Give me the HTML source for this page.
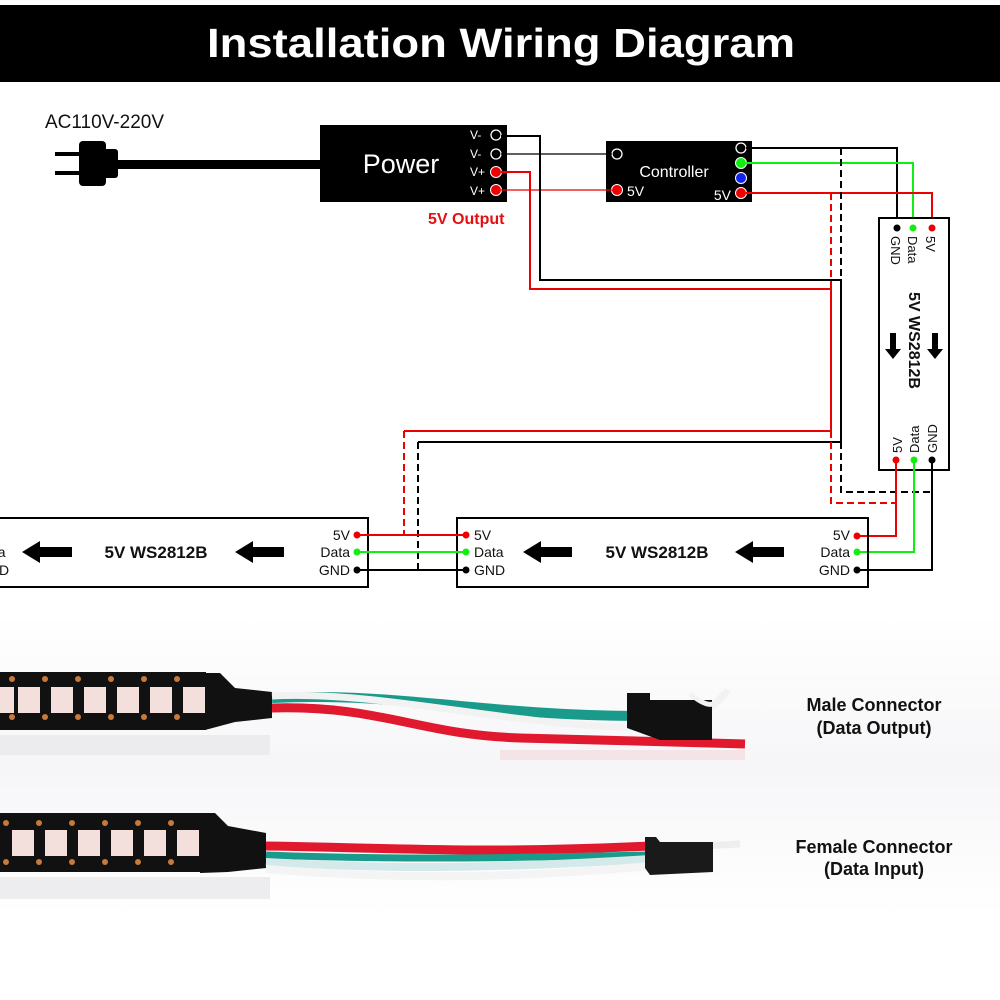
<!DOCTYPE html>
<html><head><meta charset="utf-8"><style>
html,body{margin:0;padding:0;background:#fff;}
svg{display:block;}
text{font-family:"Liberation Sans",sans-serif;}
</style></head><body>
<svg width="1000" height="1000" viewBox="0 0 1000 1000" xmlns="http://www.w3.org/2000/svg">
<defs>
<linearGradient id="bg" x1="0" y1="0" x2="0" y2="1">
<stop offset="0" stop-color="#ffffff"/><stop offset="0.5" stop-color="#f6f6f8"/><stop offset="1" stop-color="#ffffff"/>
</linearGradient>
</defs>
<rect width="1000" height="1000" fill="#fff"/>
<!-- header -->
<rect x="0" y="5" width="1000" height="77" fill="#000"/>
<text x="501" y="57" fill="#fff" font-size="41" font-weight="bold" text-anchor="middle" textLength="588" lengthAdjust="spacingAndGlyphs">Installation Wiring Diagram</text>

<!-- AC plug -->
<text x="45" y="128" font-size="19" fill="#111">AC110V-220V</text>
<rect x="55" y="152" width="28" height="4" fill="#000"/>
<rect x="55" y="171" width="28" height="4" fill="#000"/>
<rect x="79" y="141" width="27" height="45" rx="4" fill="#000"/>
<rect x="102" y="149" width="16" height="29" rx="3" fill="#000"/>
<rect x="115" y="160" width="206" height="9" fill="#000"/>

<!-- Power box -->
<rect x="320" y="125" width="187" height="77" fill="#000"/>
<text x="401" y="173" font-size="27" fill="#fff" text-anchor="middle">Power</text>
<g font-size="12" fill="#fff">
<text x="470" y="139">V-</text><text x="470" y="158">V-</text>
<text x="470" y="176">V+</text><text x="470" y="195">V+</text>
</g>
<circle cx="496" cy="135" r="5" fill="none" stroke="#fff" stroke-width="1.3"/>
<circle cx="496" cy="154" r="5" fill="none" stroke="#fff" stroke-width="1.3"/>
<circle cx="496" cy="172" r="5.5" fill="#e00" stroke="#fff" stroke-width="1"/>
<circle cx="496" cy="190" r="5.5" fill="#e00" stroke="#fff" stroke-width="1"/>
<text x="428" y="224" font-size="16" font-weight="bold" fill="#e31010">5V Output</text>

<!-- Controller -->
<rect x="606" y="141" width="146" height="61" fill="#000"/>
<text x="674" y="177" font-size="16" fill="#fff" text-anchor="middle">Controller</text>
<circle cx="617" cy="154" r="5" fill="none" stroke="#fff" stroke-width="1.3"/>
<circle cx="617" cy="190" r="5.5" fill="#e00" stroke="#fff" stroke-width="1"/>
<text x="627" y="196" font-size="14" fill="#fff">5V</text>
<text x="731" y="200" font-size="14" fill="#fff" text-anchor="end">5V</text>
<circle cx="741" cy="148" r="5" fill="none" stroke="#fff" stroke-width="1.3"/>
<circle cx="741" cy="163" r="5.5" fill="#1e1" stroke="#fff" stroke-width="1"/>
<circle cx="741" cy="178" r="5.5" fill="#12e" stroke="#fff" stroke-width="1"/>
<circle cx="741" cy="193" r="5.5" fill="#e00" stroke="#fff" stroke-width="1"/>

<g fill="none" stroke-width="1.3">
<polyline points="501,154 612,154" stroke="#000"/>
<polyline points="501,190 612,190" stroke="#e00"/>
</g>
<g fill="none" stroke-width="2">
<polyline points="501,136 540,136 540,280 841,280 841,442 418,442" stroke="#000"/>
<polyline points="501,172 530,172 530,289 831,289 831,431 404,431" stroke="#e00"/>
<polyline points="746,148 897,148 897,228" stroke="#000"/>
<polyline points="746,163 913,163 913,228" stroke="#1e1"/>
<polyline points="746,193 932,193 932,228" stroke="#e00"/>
</g>
<g fill="none" stroke-width="2" stroke-dasharray="7,4">
<polyline points="841,148 841,280" stroke="#000"/>
<polyline points="831,193 831,289" stroke="#e00"/>
<polyline points="841,442 841,492 932,492" stroke="#000"/>
<polyline points="831,431 831,503 896,503" stroke="#e00"/>
<polyline points="404,431 404,535" stroke="#e00"/>
<polyline points="418,442 418,570" stroke="#000"/>
</g>

<!-- vertical strip -->
<rect x="879" y="218" width="70" height="252" fill="#fff" stroke="#000" stroke-width="2"/>
<circle cx="897" cy="228" r="3.5" fill="#000"/>
<circle cx="913" cy="228" r="3.5" fill="#1e1"/>
<circle cx="932" cy="228" r="3.5" fill="#e00"/>
<g font-size="13" fill="#111">
<text transform="translate(891,236) rotate(90)">GND</text>
<text transform="translate(908,236) rotate(90)">Data</text>
<text transform="translate(926,236) rotate(90)">5V</text>
<text transform="translate(937,453) rotate(-90)">GND</text>
<text transform="translate(919,453) rotate(-90)">Data</text>
<text transform="translate(902,453) rotate(-90)">5V</text>
</g>
<text transform="translate(909,292) rotate(90)" font-size="16" font-weight="bold" fill="#111">5V WS2812B</text>
<path d="M890 333 h6 v16 h5 l-8 10 l-8 -10 h5 z" fill="#000"/>
<path d="M932 333 h6 v16 h5 l-8 10 l-8 -10 h5 z" fill="#000"/>
<circle cx="896" cy="460" r="3.5" fill="#e00"/>
<circle cx="914" cy="460" r="3.5" fill="#1e1"/>
<circle cx="932" cy="460" r="3.5" fill="#000"/>
<g fill="none" stroke-width="2">
<polyline points="896,460 896,536 857,536" stroke="#e00"/>
<polyline points="914,460 914,552 857,552" stroke="#1e1"/>
<polyline points="932,460 932,570 857,570" stroke="#000"/>
</g>

<!-- right horizontal strip -->
<rect x="457" y="518" width="411" height="69" fill="none" stroke="#000" stroke-width="2"/>
<g font-size="14" fill="#111">
<text x="850" y="540" text-anchor="end">5V</text>
<text x="850" y="557" text-anchor="end">Data</text>
<text x="850" y="575" text-anchor="end">GND</text>
<text x="474" y="540">5V</text>
<text x="474" y="557">Data</text>
<text x="474" y="575">GND</text>
</g>
<circle cx="857" cy="536" r="3.5" fill="#e00"/>
<circle cx="857" cy="552" r="3.5" fill="#1e1"/>
<circle cx="857" cy="570" r="3.5" fill="#000"/>
<circle cx="466" cy="535" r="3.5" fill="#e00"/>
<circle cx="466" cy="552" r="3.5" fill="#1e1"/>
<circle cx="466" cy="570" r="3.5" fill="#000"/>
<text x="657" y="558" font-size="17" font-weight="bold" fill="#111" text-anchor="middle">5V WS2812B</text>
<path d="M523 552 l18 -11 v6 h31 v10 h-31 v6 z" fill="#000"/>
<path d="M735 552 l18 -11 v6 h31 v10 h-31 v6 z" fill="#000"/>

<!-- left horizontal strip -->
<rect x="-5" y="518" width="373" height="69" fill="none" stroke="#000" stroke-width="2"/>
<g font-size="14" fill="#111">
<text x="350" y="540" text-anchor="end">5V</text>
<text x="350" y="557" text-anchor="end">Data</text>
<text x="350" y="575" text-anchor="end">GND</text>
<text x="-24" y="557">Data</text>
<text x="-22" y="575">GND</text>
</g>
<circle cx="357" cy="535" r="3.5" fill="#e00"/>
<circle cx="357" cy="552" r="3.5" fill="#1e1"/>
<circle cx="357" cy="570" r="3.5" fill="#000"/>
<text x="156" y="558" font-size="17" font-weight="bold" fill="#111" text-anchor="middle">5V WS2812B</text>
<path d="M22 552 l18 -11 v6 h32 v10 h-32 v6 z" fill="#000"/>
<path d="M235 552 l18 -11 v6 h31 v10 h-31 v6 z" fill="#000"/>
<g stroke-width="2">
<line x1="357" y1="535" x2="466" y2="535" stroke="#e00"/>
<line x1="357" y1="552" x2="466" y2="552" stroke="#1e1"/>
<line x1="357" y1="570" x2="466" y2="570" stroke="#000"/>
</g>

<!-- photo area -->
<rect x="0" y="615" width="1000" height="300" fill="url(#bg)"/>
<!-- top strip -->
<rect x="0" y="672" width="206" height="58" fill="#111"/>
<g fill="#f3dfdc">
<rect x="-8" y="687" width="22" height="26"/><rect x="18" y="687" width="22" height="26"/><rect x="51" y="687" width="22" height="26"/>
<rect x="84" y="687" width="22" height="26"/><rect x="117" y="687" width="22" height="26"/><rect x="150" y="687" width="22" height="26"/><rect x="183" y="687" width="22" height="26"/>
</g>
<g fill="#c87a3a">
<circle cx="12" cy="679" r="3"/><circle cx="45" cy="679" r="3"/><circle cx="78" cy="679" r="3"/><circle cx="111" cy="679" r="3"/><circle cx="144" cy="679" r="3"/><circle cx="177" cy="679" r="3"/>
<circle cx="12" cy="717" r="3"/><circle cx="45" cy="717" r="3"/><circle cx="78" cy="717" r="3"/><circle cx="111" cy="717" r="3"/><circle cx="144" cy="717" r="3"/><circle cx="177" cy="717" r="3"/>
</g>
<rect x="0" y="735" width="270" height="20" fill="#e9e9ec" opacity="0.8"/>
<path d="M205 673 L220 673 L235 688 L272 692 L272 718 L235 722 L205 730 Z" fill="#111"/>
<path d="M272 698 C400 692 480 715 635 716" stroke="#1a9a8a" stroke-width="10" fill="none"/>
<path d="M272 696 C380 690 520 728 640 727 C690 726 710 712 728 690" stroke="#f2f2f2" stroke-width="7" fill="none"/>
<path d="M272 708 C380 705 420 735 520 738 C620 740 680 742 745 744" stroke="#e0192e" stroke-width="9" fill="none"/>
<path d="M627 693 L650 693 L650 700 L712 700 L712 740 L660 740 L627 728 Z" fill="#111"/>
<path d="M690 694 C705 705 715 712 728 690" stroke="#f2f2f2" stroke-width="5" fill="none"/>
<path d="M500 755 L745 755" stroke="#f5d8dc" stroke-width="10" opacity="0.6"/>
<!-- bottom strip -->
<rect x="0" y="813" width="202" height="59" fill="#111"/>
<g fill="#f3dfdc">
<rect x="12" y="830" width="22" height="26"/><rect x="45" y="830" width="22" height="26"/><rect x="78" y="830" width="22" height="26"/>
<rect x="111" y="830" width="22" height="26"/><rect x="144" y="830" width="22" height="26"/><rect x="177" y="830" width="22" height="26"/>
</g>
<g fill="#c87a3a">
<circle cx="6" cy="823" r="3"/><circle cx="39" cy="823" r="3"/><circle cx="72" cy="823" r="3"/><circle cx="105" cy="823" r="3"/><circle cx="138" cy="823" r="3"/><circle cx="171" cy="823" r="3"/>
<circle cx="6" cy="862" r="3"/><circle cx="39" cy="862" r="3"/><circle cx="72" cy="862" r="3"/><circle cx="105" cy="862" r="3"/><circle cx="138" cy="862" r="3"/><circle cx="171" cy="862" r="3"/>
</g>
<rect x="0" y="877" width="270" height="22" fill="#e9e9ec" opacity="0.8"/>
<path d="M200 813 L215 813 L228 826 L266 833 L266 868 L228 872 L200 873 Z" fill="#111"/>
<path d="M266 846 C400 848 480 854 650 846" stroke="#e0192e" stroke-width="9" fill="none"/>
<path d="M266 855 C400 860 500 858 650 855" stroke="#1a9a8a" stroke-width="7" fill="none"/>
<path d="M266 862 C400 870 500 868 650 859" stroke="#d4eaea" stroke-width="8" fill="none"/>
<path d="M266 869 C400 880 520 878 650 866" stroke="#f4f4f4" stroke-width="8" fill="none"/>
<path d="M680 847 L740 844" stroke="#eeeeee" stroke-width="7"/>
<path d="M645 837 L656 837 L660 842 L713 842 L713 872 L650 875 L645 868 Z" fill="#1a1a1a"/>

<!-- photo labels -->
<g font-size="18" font-weight="bold" fill="#111" text-anchor="middle">
<text x="874" y="711">Male Connector</text>
<text x="874" y="734">(Data Output)</text>
<text x="874" y="853">Female Connector</text>
<text x="874" y="875">(Data Input)</text>
</g>
</svg>
</body></html>
